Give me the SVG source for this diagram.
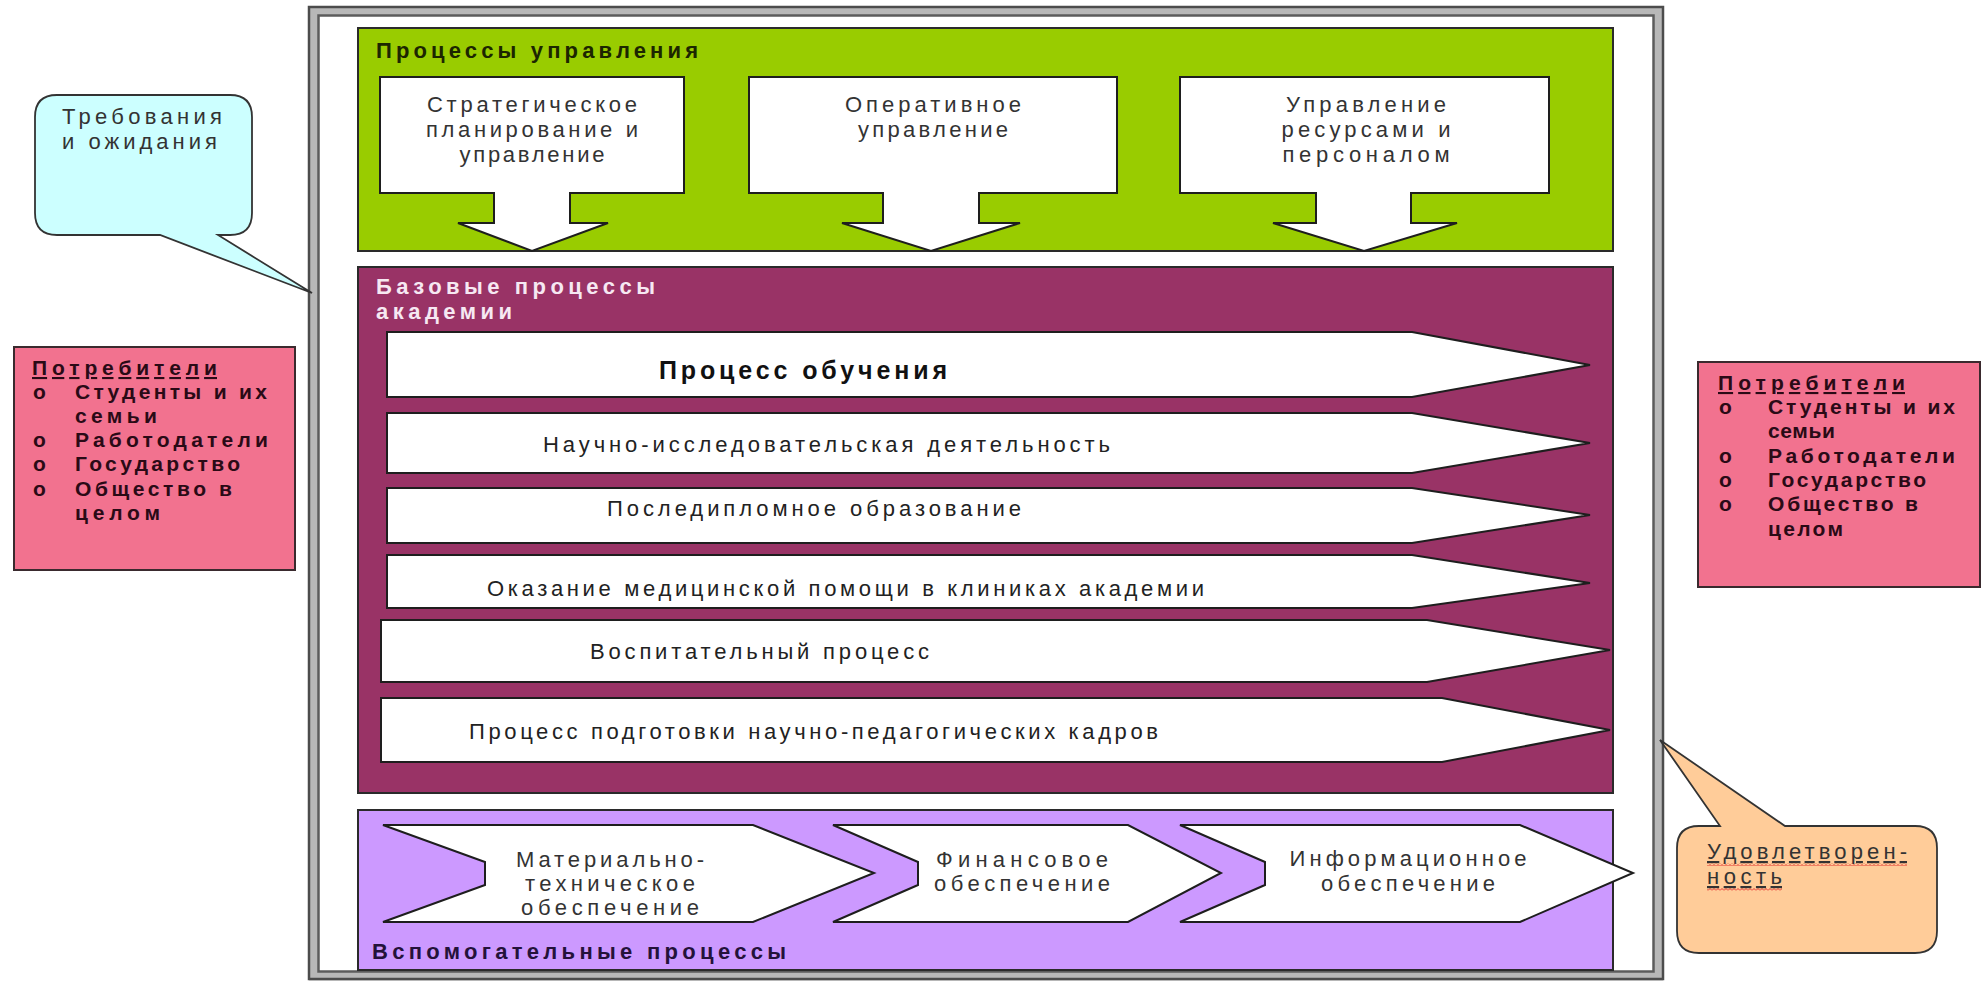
<svg xmlns="http://www.w3.org/2000/svg" width="1986" height="985" viewBox="0 0 1986 985">
<style>
text{font-family:"Liberation Sans",Arial,"DejaVu Sans",sans-serif;}
.t{font-size:22px;fill:#333;}
.tb{font-size:22px;fill:#222;}
.ttl{font-size:22px;font-weight:bold;}
.pk{font-size:21px;font-weight:bold;fill:#2a0a16;}
.sh{stroke:#1e1e1e;stroke-width:2;stroke-linejoin:miter;}
</style>
<defs>
<pattern id="wavy" x="0" y="0" width="4" height="3" patternUnits="userSpaceOnUse">
<path d="M0,2.5 L2,0.5 L4,2.5" fill="none" stroke="#e02020" stroke-width="0.9"/>
</pattern>
</defs>
<rect width="1986" height="985" fill="#ffffff"/>

<g id="frame">
<rect x="313.5" y="11" width="1345" height="965" fill="none" stroke="#b8b8b8" stroke-width="9"/>
<rect x="309" y="7" width="1354" height="972" fill="none" stroke="#4c4c4c" stroke-width="2.5"/>
<rect x="318.5" y="15.5" width="1335" height="956" fill="none" stroke="#5c5c5c" stroke-width="2.5"/>
</g>

<g id="management">
<rect x="358" y="28" width="1255" height="223" fill="#99cc00" stroke="#2a2a2a" stroke-width="2"/>
<text x="376" y="58" class="ttl" fill="#1c2600" textLength="322">Процессы управления</text>
</g>
<g id="strategic">
<path class="sh" fill="#ffffff" d="M380,77 H684 V193 H570 V223 H608 L532,251 L458,223 H494 V193 H380 Z"/>
<text class="t" text-anchor="middle" x="532" y="112" textLength="210">Стратегическое</text>
<text class="t" text-anchor="middle" x="532" y="137" textLength="212">планирование и</text>
<text class="t" text-anchor="middle" x="532" y="162" textLength="145">управление</text>
</g>
<g id="operative">
<path class="sh" fill="#ffffff" d="M749,77 H1117 V193 H979 V223 H1020 L931,251 L842,223 H883 V193 H749 Z"/>
<text class="t" text-anchor="middle" x="933" y="112" textLength="176">Оперативное</text>
<text class="t" text-anchor="middle" x="933" y="137" textLength="150">управление</text>
</g>
<g id="resources">
<path class="sh" fill="#ffffff" d="M1180,77 H1549 V193 H1411 V223 H1457 L1364,251 L1273,223 H1316 V193 H1180 Z"/>
<text class="t" text-anchor="middle" x="1366" y="112" textLength="160">Управление</text>
<text class="t" text-anchor="middle" x="1366" y="137" textLength="169">ресурсами и</text>
<text class="t" text-anchor="middle" x="1366" y="162" textLength="167">персоналом</text>
</g>

<g id="core">
<rect x="358" y="267" width="1255" height="526" fill="#993366" stroke="#2a2a2a" stroke-width="2"/>
<text x="376" y="294" class="ttl" fill="#f6e8f2" textLength="279">Базовые процессы</text>
<text x="376" y="319" class="ttl" fill="#f6e8f2" textLength="136">академии</text>
</g>
<g id="bar-learning">
<path class="sh" fill="#ffffff" d="M387,332 H1412 L1590,365 L1412,397 H387 Z"/>
<text x="803" y="379" text-anchor="middle" font-size="25" font-weight="bold" fill="#111" textLength="288">Процесс обучения</text>
</g>
<g id="bar-research">
<path class="sh" fill="#ffffff" d="M387,413 H1412 L1590,443 L1412,473 H387 Z"/>
<text class="tb" x="543" y="452" textLength="567">Научно-исследовательская деятельность</text>
</g>
<g id="bar-postgrad">
<path class="sh" fill="#ffffff" d="M387,488 H1412 L1590,515 L1412,543 H387 Z"/>
<text class="tb" x="607" y="516" textLength="414">Последипломное образование</text>
</g>
<g id="bar-clinics">
<path class="sh" fill="#ffffff" d="M387,555 H1412 L1590,583 L1412,608 H387 Z"/>
<text class="tb" x="487" y="596" textLength="717">Оказание медицинской помощи в клиниках академии</text>
</g>
<g id="bar-education">
<path class="sh" fill="#ffffff" d="M381,620 H1427 L1610,650 L1427,682 H381 Z"/>
<text class="tb" x="590" y="659" textLength="339">Воспитательный процесс</text>
</g>
<g id="bar-staff">
<path class="sh" fill="#ffffff" d="M381,698 H1442 L1610,730 L1442,762 H381 Z"/>
<text class="tb" x="469" y="739" textLength="689">Процесс подготовки научно-педагогических кадров</text>
</g>

<g id="support">
<rect x="358" y="810" width="1255" height="160" fill="#cc99ff" stroke="#2a2a2a" stroke-width="2"/>
<text x="372" y="959" class="ttl" fill="#24123a" textLength="414">Вспомогательные процессы</text>
</g>
<g id="chev-material">
<path class="sh" fill="#ffffff" d="M383,825 H753 L874,873 L753,922 H383 L485,885 V862 Z"/>
<text class="t" text-anchor="middle" x="610" y="867" textLength="188">Материально-</text>
<text class="t" text-anchor="middle" x="610" y="891" textLength="170">техническое</text>
<text class="t" text-anchor="middle" x="610" y="915" textLength="178">обеспечение</text>
</g>
<g id="chev-finance">
<path class="sh" fill="#ffffff" d="M833,825 H1128 L1221,873 L1128,922 H833 L918,885 V862 Z"/>
<text class="t" text-anchor="middle" x="1022" y="867" textLength="172">Финансовое</text>
<text class="t" text-anchor="middle" x="1022" y="891" textLength="176">обеспечение</text>
</g>
<g id="chev-info">
<path class="sh" fill="#ffffff" d="M1180,825 H1520 L1633,873 L1520,922 H1180 L1265,885 V862 Z"/>
<text class="t" text-anchor="middle" x="1408" y="866" textLength="237">Информационное</text>
<text class="t" text-anchor="middle" x="1408" y="891" textLength="174">обеспечение</text>
</g>

<g id="callout-requirements">
<path fill="#ccffff" stroke="#333" stroke-width="1.8" d="M57,95 H230 Q252,95 252,117 V213 Q252,235 230,235 H218 L312,293 L160,235 H57 Q35,235 35,213 V117 Q35,95 57,95 Z"/>
<text class="t" fill="#444" x="62" y="124" textLength="160">Требования</text>
<text class="t" fill="#444" x="62" y="149" textLength="155">и ожидания</text>
</g>

<g id="consumers-left">
<rect x="14" y="347" width="281" height="223" fill="#f2728f" stroke="#3a2a2e" stroke-width="2"/>
<text class="pk" x="32" y="375" textLength="185" text-decoration="underline">Потребители</text>
<text class="pk" x="33" y="399">o</text>
<text class="pk" x="75" y="399" textLength="192">Студенты и их</text>
<text class="pk" x="75" y="423" textLength="82">семьи</text>
<text class="pk" x="33" y="447">o</text>
<text class="pk" x="75" y="447" textLength="193">Работодатели</text>
<text class="pk" x="33" y="471">o</text>
<text class="pk" x="75" y="471" textLength="165">Государство</text>
<text class="pk" x="33" y="496">o</text>
<text class="pk" x="75" y="496" textLength="157">Общество в</text>
<text class="pk" x="75" y="520" textLength="85">целом</text>
</g>

<g id="consumers-right">
<rect x="1698" y="362" width="282" height="225" fill="#f2728f" stroke="#3a2a2e" stroke-width="2"/>
<text class="pk" x="1718" y="390" textLength="187" text-decoration="underline">Потребители</text>
<text class="pk" x="1719" y="414">o</text>
<text class="pk" x="1768" y="414" textLength="187">Студенты и их</text>
<text class="pk" x="1768" y="438" textLength="67">семьи</text>
<text class="pk" x="1719" y="463">o</text>
<text class="pk" x="1768" y="463" textLength="187">Работодатели</text>
<text class="pk" x="1719" y="487">o</text>
<text class="pk" x="1768" y="487" textLength="158">Государство</text>
<text class="pk" x="1719" y="511">o</text>
<text class="pk" x="1768" y="511" textLength="150">Общество в</text>
<text class="pk" x="1768" y="536" textLength="75">целом</text>
</g>

<g id="callout-satisfaction">
<path fill="#ffcc99" stroke="#333" stroke-width="1.8" d="M1699,826 H1720 L1660,740 L1785,826 H1915 Q1937,826 1937,848 V931 Q1937,953 1915,953 H1699 Q1677,953 1677,931 V848 Q1677,826 1699,826 Z"/>
<text class="t" fill="#333" x="1707" y="859" textLength="200" text-decoration="underline">Удовлетворен-</text>
<text class="t" fill="#333" x="1707" y="884" textLength="75" text-decoration="underline">ность</text>
<rect x="1707" y="863" width="200" height="3" fill="url(#wavy)"/>
<rect x="1707" y="888" width="75" height="3" fill="url(#wavy)"/>
</g>

<g id="connectors"></g>
</svg>
